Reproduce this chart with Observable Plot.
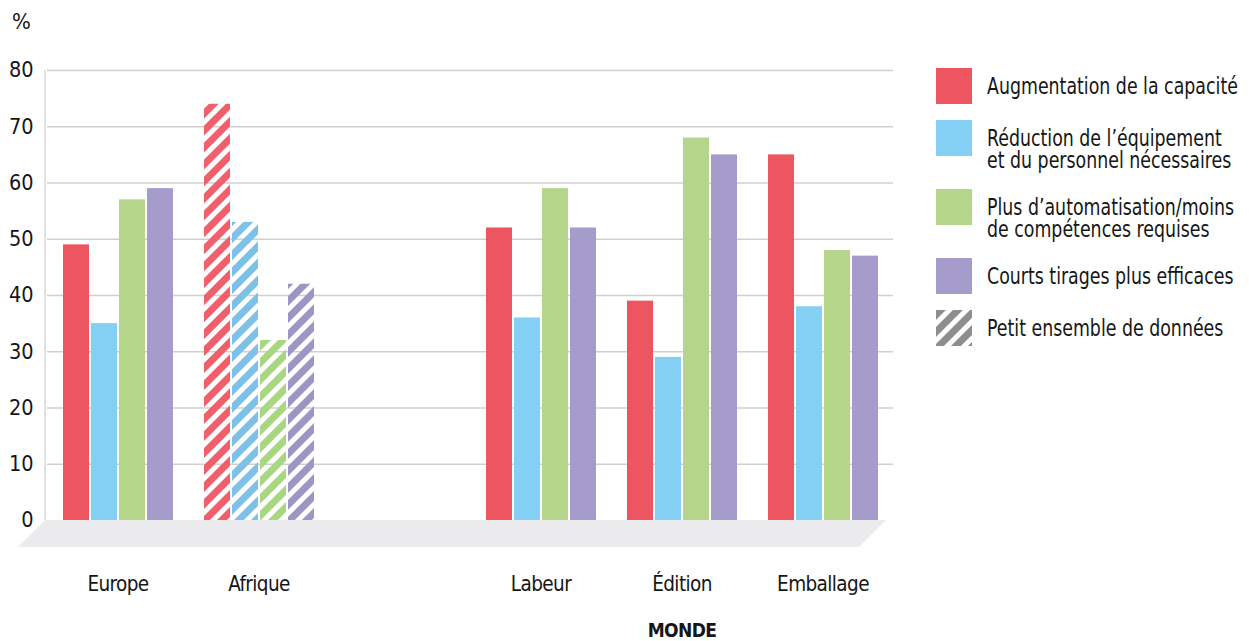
<!DOCTYPE html>
<html>
<head>
<meta charset="utf-8">
<script src="https://cdn.jsdelivr.net/npm/d3@7"></script>
<script src="https://cdn.jsdelivr.net/npm/@observablehq/plot@0.6"></script>
<style>
  body { margin: 0; background: #fff; font-family: "DejaVu Sans Condensed", "DejaVu Sans", sans-serif; font-stretch: condensed; color: #161616; }
  #wrap { position: relative; width: 1249px; height: 641px; overflow: hidden; }
  #pct { position: absolute; left: 12px; top: 10px; font-size: 22px; line-height: 23px; }
  #legend { position: absolute; left: 936px; top: 68px; display: flex; flex-direction: column; gap: 16px; }
  .item { position: relative; height: 36px; width: 310px; }
  .item.two { height: 53px; }
  .sw { position: absolute; left: 0; top: 0; width: 36px; height: 36px; }
  .lab { position: absolute; left: 51px; top: 6.5px; font-size: 23px; line-height: 22px; white-space: pre; transform: scaleX(0.84); transform-origin: 0 0; }
  #defs { position: absolute; width: 0; height: 0; }
</style>
</head>
<body>
<div id="wrap">
  <div id="chart"></div>
  <div id="pct"></div>
  <div id="legend"></div>
</div>
<script>
// ---- data ----
const groups = ["Europe", "Afrique", "Labeur", "Édition", "Emballage"];
const series = [
  "Augmentation de la capacité",
  "Réduction de l’équipement\net du personnel nécessaires",
  "Plus d’automatisation/moins\nde compétences requises",
  "Courts tirages plus efficaces"
];
const europe    = [49, 35, 57, 59];
const afrique   = [74, 53, 32, 42];
const labeur    = [52, 36, 59, 52];
const edition   = [39, 29, 68, 65];
const emballage = [65, 38, 48, 47];
const smallSampleGroups = ["Afrique"];
const smallSampleLabel = "Petit ensemble de données";
const worldGroups = ["Labeur", "Édition", "Emballage"];
const worldLabel = "MONDE";
const yTicks = [0, 10, 20, 30, 40, 50, 60, 70, 80];
const unitLabel = "%";
const seriesColors = ["#ed5561", "#84d0f5", "#b5d58b", "#a69ccb"];
const hatchColors  = ["#f0606c", "#7dc0e8", "#a8d782", "#9f95c4"];
const hatchLegendColor = "#8e8e8e";

// ---- build ----
const valuesByGroup = [europe, afrique, labeur, edition, emballage];
const spacer = " ";
const slots = [groups[0], groups[1], spacer, ...groups.slice(2)];
const rows = groups.flatMap((g, i) => valuesByGroup[i].map((v, j) => ({
  group: g, series: series[j], value: v, small: smallSampleGroups.includes(g)
})));
const gridRows = slots.flatMap(g => yTicks.filter(v => v > 0).map(v => ({group: g, v})));

// hatch patterns
const defs = d3.select("body").append("svg").attr("id", "defs").append("defs");
const allHatch = [...hatchColors, hatchLegendColor];
allHatch.forEach((c, i) => {
  const p = defs.append("pattern")
    .attr("id", "hatch" + i)
    .attr("patternUnits", "userSpaceOnUse")
    .attr("width", 12).attr("height", 12)
    .attr("patternTransform", "rotate(45)");
  p.append("rect").attr("width", 7).attr("height", 12).attr("fill", c);
});
const hatchKeys = series.map(s => s + "|hatch");
const hatchUrls = hatchColors.map((c, i) => `url(#hatch${i})`);

const W = 1249, H = 641, ML = 45, MR = 354, MT = 70, MB = 121;
const font = '"DejaVu Sans Condensed", "DejaVu Sans", sans-serif';

const chart = Plot.plot({
  width: W, height: H,
  marginLeft: ML, marginRight: MR, marginTop: MT, marginBottom: MB,
  style: {fontFamily: font, fontSize: "21.5px", fontStretch: "condensed", color: "#161616", background: "transparent"},
  fx: {domain: slots, padding: 0, axis: null, label: null},
  x: {domain: series, paddingInner: 0.08, paddingOuter: 0.543, axis: null},
  y: {domain: [0, 80], ticks: yTicks, tickSize: 0, tickPadding: 14, label: null},
  color: {domain: [...series, ...hatchKeys], range: [...seriesColors, ...hatchUrls]},
  marks: [
    Plot.ruleY(gridRows, {fx: "group", y: "v", stroke: "#d0d0d0", strokeWidth: 1.3}),
    Plot.barY(rows, {fx: "group", x: "series", y: "value", fill: d => d.small ? d.series + "|hatch" : d.series}),
    Plot.text(groups, {fx: d => d, text: d => d, frameAnchor: "bottom", dy: 70, fontSize: 20.5, fill: "#161616"}),
    Plot.text([worldLabel], {fx: () => worldGroups[1], text: d => d, frameAnchor: "bottom", dy: 116, fontSize: 19, fontWeight: "bold", fill: "#161616"})
  ]
});
document.getElementById("chart").appendChild(chart);

// condensed look for the svg texts
d3.select(chart).selectAll('g[aria-label="text"] text').style("letter-spacing", "-0.6px");

// decorations: floor and left axis line, from the scales
const ys = chart.scale("y");
const y0 = ys.apply(0), yTop = ys.apply(80);
const xLeft = ML, xRight = W - MR;
const svg = d3.select(chart);
const floorDepth = 27, floorSlant = 27;
svg.insert("polygon", ":first-child")
  .attr("points", [
    [xLeft, y0], [xRight - 9, y0],
    [xRight - 9 - floorSlant, y0 + floorDepth], [xLeft - floorSlant, y0 + floorDepth]
  ].map(p => p.join(",")).join(" "))
  .attr("fill", "#ebebed");
svg.append("line")
  .attr("x1", xLeft).attr("x2", xLeft).attr("y1", y0).attr("y2", yTop)
  .attr("stroke", "#cfcfcf").attr("stroke-width", 1.2);

document.getElementById("pct").textContent = unitLabel;

// legend
const legend = d3.select("#legend");
series.forEach((s, i) => {
  const it = legend.append("div").attr("class", "item" + (s.includes("\n") ? " two" : ""));
  it.append("div").attr("class", "sw").style("background", seriesColors[i]);
  it.append("div").attr("class", "lab").text(s);
});
const hi = legend.append("div").attr("class", "item");
hi.append("svg").attr("class", "sw").attr("width", 36).attr("height", 36)
  .append("rect").attr("width", 36).attr("height", 36).attr("fill", `url(#hatch${hatchColors.length})`);
hi.append("div").attr("class", "lab").text(smallSampleLabel);
</script>
</body>
</html>
